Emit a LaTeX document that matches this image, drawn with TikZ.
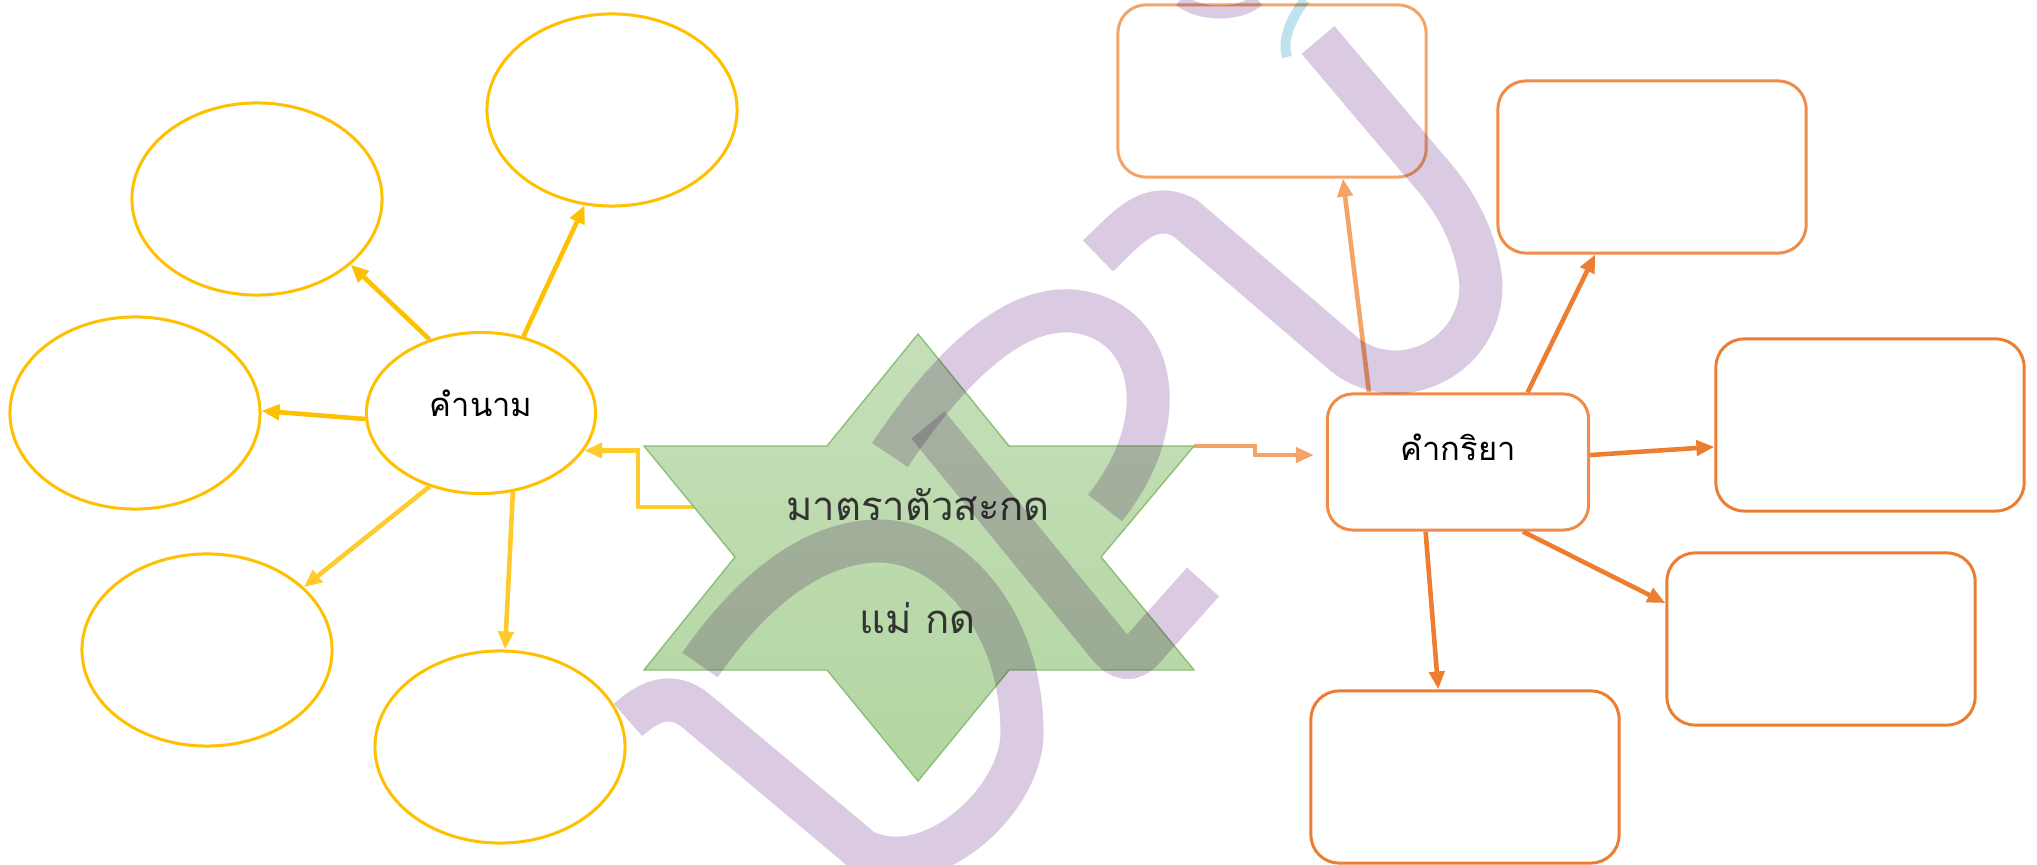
\documentclass[tikz,border=0pt]{standalone}
\usepackage{fontspec}
\newfontfamily\thaifont[Script=Thai]{Loma}
\usetikzlibrary{shapes.geometric,arrows.meta}
\definecolor{gold}{HTML}{FFC000}
\definecolor{goldlt}{HTML}{FFCA2E}
\definecolor{orng}{HTML}{ED7D31}
\definecolor{orngmd}{HTML}{EF8C4A}
\definecolor{ornglt}{HTML}{F3A469}
\definecolor{startop}{HTML}{C5DFB9}
\definecolor{starbot}{HTML}{B2D6A1}
\definecolor{starline}{HTML}{8DBE75}
\definecolor{wmpurple}{HTML}{DACBE2}
\definecolor{wmblue}{HTML}{BFE3EE}
\begin{document}
\begin{tikzpicture}[x=0.01cm,y=-0.01cm,
  bubble/.style={draw=gold,line width=0.85pt,ellipse,minimum width=2.5cm,minimum height=1.92cm},
  card/.style={draw=orng,line width=0.85pt,rounded corners=0.28cm,minimum width=3.08cm,minimum height=1.72cm},
  lbl/.style={font=\thaifont\fontsize{9.3}{12}\selectfont},
  yarrow/.style={draw=gold,line width=1.3pt,-{Triangle[length=0.18cm,width=0.15cm]}},
  oarrow/.style={draw=orng,line width=1.3pt,-{Triangle[length=0.18cm,width=0.15cm]}},
  wm/.style={draw=wmpurple,line width=0.43cm,blend mode=multiply}]
\useasboundingbox (0,0) rectangle (2037,865);
\fill[white] (0,0) rectangle (2037,865);
\small
\coordinate (starL) at (694,507);
\coordinate (starR) at (1194,446);
\node[bubble,lbl,minimum width=2.29cm,minimum height=1.61cm,text depth=0.2cm] (n) at (481,413) {คำนาม};
\node[bubble] (n1) at (257,199) {};
\node[bubble] (n2) at (612,110) {};
\node[bubble] (n3) at (135,413) {};
\node[bubble] (n4) at (207,650) {};
\node[bubble] (n5) at (500,747) {};
\node[card,lbl,draw=orngmd,minimum width=2.61cm,minimum height=1.36cm,rounded corners=0.25cm,text depth=0.3cm] (v) at (1458,462) {คำกริยา};
\node[card,draw=ornglt] (v1) at (1272,91) {};
\node[card,draw=orngmd] (v2) at (1652,167) {};
\node[card] (v3) at (1870,425) {};
\node[card] (v4) at (1821,639) {};
\node[card] (v5) at (1465,777) {};
\path[yarrow,draw=goldlt] (starL) -- ++(-56,0) |- (n.-20);
\path[oarrow,draw=ornglt,shorten >=0.12cm] (starR) -- ++(61,0) |- (v.177);
\path[draw=starline,line width=0.4pt,top color=startop,bottom color=starbot] (918,334) -- (1009,446) -- (1194,446) -- (1101,557) -- (1194,670) -- (1009,670) -- (918,781) -- (827,670) -- (644,670) -- (735,557) -- (644,446) -- (827,446) -- cycle;
\node[align=center,text=black!80,font=\thaifont\fontsize{11.4}{32}\selectfont] (star) at (918,561) {มาตราตัวสะกด\\แม่ กด};
\path[yarrow] (n.125) -- (n1.-35);
\path[yarrow] (n.61) -- (n2.-106);
\path[yarrow] (n.183) -- (n3.1);
\path[yarrow,draw=goldlt] (n.235) -- (n4.33);
\path[yarrow,draw=goldlt] (n.-68) -- (n5.87);
\path[oarrow,draw=ornglt] (v.142) -- (v1.-51);
\path[oarrow] (v.45) -- (v2.-123);
\path[oarrow] (v.3) -- (v3.-172);
\path[oarrow] (v.-47) -- (v4.167);
\path[oarrow] (v.-115) -- (v5.107);
\path[wm] (1098,256) .. controls (1130,225) and (1150,200) .. (1185,218) -- (1345,355) .. controls (1405,400) and (1490,350) .. (1480,275) .. controls (1474,235) and (1455,200) .. (1428,170) -- (1318,40);
\path[wm] (890,455) .. controls (940,380) and (1010,300) .. (1080,312) .. controls (1155,325) and (1175,420) .. (1105,508);
\path[wm] (928,425) -- (1108,645) .. controls (1120,660) and (1132,662) .. (1144,648) -- (1203,582);
\path[wm] (628,720) .. controls (650,700) and (672,692) .. (695,710) -- (862,850) .. controls (930,885) and (1022,800) .. (1022,733) .. controls (1022,620) and (950,540) .. (877,541) .. controls (800,543) and (738,610) .. (700,665);
\path[wm,line width=0.13cm] (1180,0) .. controls (1200,16) and (1240,16) .. (1258,0);
\path[wm,draw=wmblue,line width=0.1cm] (1305,0) .. controls (1290,20) and (1282,40) .. (1287,57);
\end{tikzpicture}
\end{document}
